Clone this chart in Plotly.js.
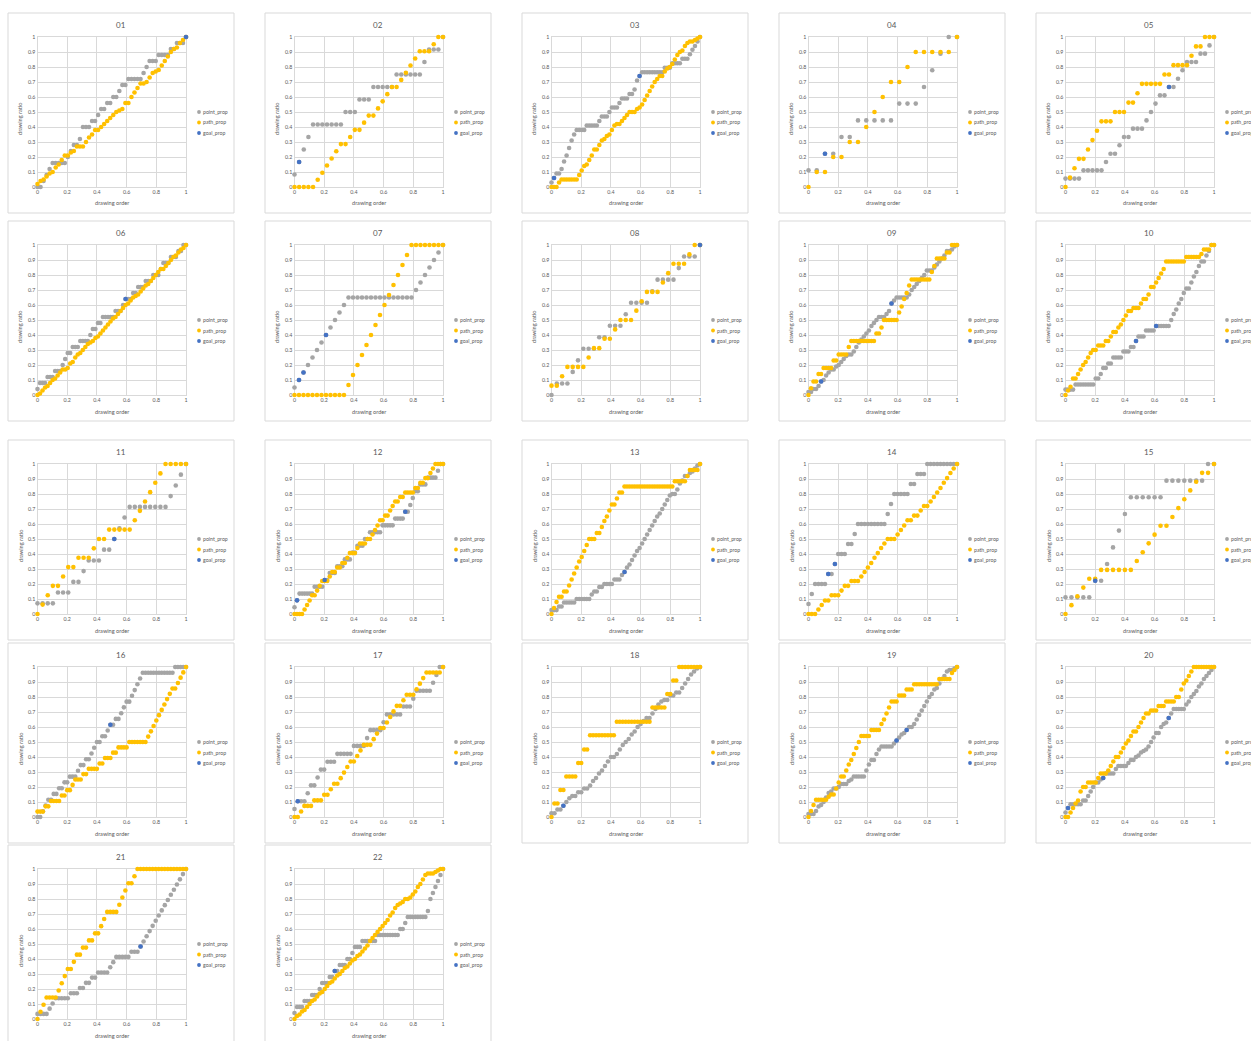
<!DOCTYPE html>
<html>
<head>
<meta charset="utf-8">
<script src="https://cdn.plot.ly/plotly-3.0.1.min.js"></script>
<style>
html,body{margin:0;padding:0;background:#ffffff;}
#chart{width:1251px;height:1041px;}
</style>
</head>
<body>
<div id="chart"></div>
<script>
// ---------- labels ----------
const panelTitles = ['01','02','03','04','05','06','07','08','09','10','11','12','13','14','15','16','17','18','19','20','21','22'];
const seriesNames = ['point_prop','path_prop','goal_prop'];
const seriesColors = ['#A5A5A5','#FFC000','#4472C4'];
const xAxisTitle = 'drawing order';
const yAxisTitle = 'drawing ratio';

// ---------- data (y values in drawing order; x = normalised drawing order) ----------
const p01_point = [0,0,.04,.08,.12,.16,.16,.16,.16,.16,.2,.24,.28,.28,.32,.4,.4,.4,.44,.44,.48,.52,.52,.56,.56,.6,.6,.64,.68,.68,.72,.72,.72,.72,.72,.76,.8,.84,.84,.84,.88,.88,.88,.88,.92,.92,.96,.96,.96,1];
const p01_path = [.02,.04,.05,.07,.09,.1,.13,.15,.18,.21,.21,.23,.24,.27,.27,.27,.3,.33,.35,.38,.38,.4,.42,.44,.46,.48,.5,.51,.52,.56,.56,.6,.63,.66,.69,.69,.7,.73,.76,.77,.78,.81,.84,.87,.9,.92,.93,.96,.98,1];
const p01_goal_x = [1];
const p01_goal_y = [1];

const p02_point = [.083,.167,.25,.333,.417,.417,.417,.417,.417,.417,.417,.5,.5,.5,.583,.583,.583,.667,.667,.667,.667,.667,.75,.75,.75,.75,.75,.75,.833,.917,.917,.917,1];
const p02_path = [0,0,0,0,0,.048,.095,.143,.19,.238,.286,.286,.333,.381,.381,.429,.476,.476,.524,.571,.619,.667,.667,.714,.762,.81,.857,.905,.905,.905,.952,1,1];
const p02_goal_x = [0.031];
const p02_goal_y = [0.167];

const p03_point = [.03,.06,.09,.09,.12,.17,.21,.26,.31,.35,.38,.38,.38,.38,.41,.41,.41,.41,.41,.44,.47,.47,.47,.5,.53,.53,.53,.56,.59,.59,.59,.62,.62,.65,.71,.74,.765,.765,.765,.765,.765,.765,.765,.765,.765,.795,.795,.795,.825,.825,.825,.825,.855,.855,.855,.885,.915,.94,.97,1];
const p03_path = [0,0,0,.03,.05,.05,.05,.05,.05,.05,.05,.08,.11,.14,.15,.18,.21,.25,.25,.28,.31,.32,.34,.35,.38,.41,.42,.42,.44,.46,.48,.5,.5,.5,.52,.53,.55,.58,.61,.64,.67,.7,.72,.74,.74,.77,.79,.8,.82,.85,.88,.9,.91,.94,.96,.97,.97,.98,.99,1];
const p03_goal_x = [0.017,0.593];
const p03_goal_y = [0.06,0.74];

const p04_point = [.111,.111,.222,.222,.333,.333,.444,.444,.444,.444,.444,.556,.556,.556,.667,.778,.889,1,1];
const p04_path = [0,.1,.1,.2,.2,.3,.3,.4,.5,.6,.7,.7,.8,.9,.9,.9,.9,.9,1];
const p04_goal_x = [0.111];
const p04_goal_y = [0.222];

const p05_point = [.056,.056,.056,.056,.111,.111,.111,.111,.111,.167,.222,.222,.278,.333,.333,.389,.389,.389,.444,.5,.556,.611,.611,.667,.667,.722,.778,.833,.833,.833,.889,.889,.944,1];
const p05_path = [0,.0625,.125,.1875,.1875,.25,.3125,.375,.4375,.4375,.4375,.5,.5,.5,.5625,.5625,.625,.6875,.6875,.6875,.6875,.6875,.75,.75,.8125,.8125,.8125,.8125,.875,.9375,.9375,1,1,1];
const p05_goal_x = [0.697];
const p05_goal_y = [0.667];

const p06_point = [.04,.08,.08,.08,.12,.12,.12,.16,.16,.16,.2,.24,.28,.28,.32,.32,.32,.36,.36,.36,.36,.4,.44,.44,.48,.48,.52,.52,.52,.52,.52,.56,.56,.56,.6,.64,.64,.64,.68,.68,.72,.72,.72,.76,.76,.76,.8,.8,.8,.84,.88,.88,.88,.92,.92,.92,.96,.96,1,1];
const p06_path = [0,.01,.03,.05,.06,.08,.1,.11,.13,.15,.17,.17,.18,.21,.22,.25,.27,.28,.3,.32,.34,.35,.36,.38,.39,.41,.43,.45,.47,.49,.51,.52,.54,.56,.58,.6,.61,.63,.65,.66,.67,.69,.71,.73,.74,.76,.78,.8,.82,.84,.84,.86,.88,.9,.92,.93,.95,.97,.98,1];
const p06_goal_x = [0.593];
const p06_goal_y = [0.64];

const p07_point = [.05,.1,.15,.2,.25,.3,.35,.4,.45,.5,.55,.6,.65,.65,.65,.65,.65,.65,.65,.65,.65,.65,.65,.65,.65,.65,.65,.7,.75,.8,.85,.9,.95,1];
const p07_path = [0,0,0,0,0,0,0,0,0,0,0,0,.067,.133,.2,.267,.333,.4,.467,.533,.6,.667,.733,.8,.867,.933,1,1,1,1,1,1,1,1];
const p07_goal_x = [0.0303,0.0606,0.2121];
const p07_goal_y = [0.1,0.15,0.4];

const p08_point = [0,.077,.077,.077,.154,.231,.308,.308,.308,.385,.385,.462,.462,.462,.538,.615,.615,.615,.615,.692,.769,.769,.769,.769,.846,.923,.923,.923,1];
const p08_path = [.0625,.0625,.125,.1875,.1875,.1875,.1875,.25,.3125,.3125,.375,.375,.4375,.5,.5,.5,.5625,.625,.6875,.6875,.6875,.75,.8125,.875,.875,.875,.9375,1,1];
const p08_goal_x = [1];
const p08_goal_y = [1];

const p09_point = [.02,.02,.04,.04,.06,.09,.1,.13,.15,.17,.17,.19,.2,.22,.24,.26,.27,.27,.29,.32,.35,.37,.39,.41,.43,.46,.48,.5,.52,.52,.52,.54,.56,.61,.63,.65,.65,.65,.65,.65,.67,.7,.72,.74,.76,.78,.8,.83,.83,.83,.85,.87,.89,.91,.93,.96,.96,.97,.99,1];
const p09_path = [0,.045,.09,.09,.14,.14,.18,.18,.18,.18,.23,.23,.27,.27,.27,.27,.32,.36,.36,.36,.36,.36,.36,.36,.36,.36,.36,.41,.41,.45,.5,.5,.5,.5,.5,.5,.55,.59,.64,.68,.73,.77,.77,.77,.77,.77,.77,.77,.77,.82,.86,.91,.91,.91,.91,.95,.95,1,1,1];
const p09_goal_x = [0.085,0.559];
const p09_goal_y = [0.09,0.61];

const p10_point = [.036,.036,.036,.036,.07,.07,.07,.07,.07,.07,.07,.07,.11,.11,.14,.18,.18,.21,.21,.25,.25,.25,.25,.29,.29,.29,.32,.32,.36,.39,.39,.39,.43,.43,.43,.43,.46,.46,.46,.46,.46,.46,.5,.54,.57,.61,.64,.68,.71,.71,.75,.79,.82,.86,.89,.89,.93,.96,1,1];
const p10_path = [0,.03,.055,.11,.11,.14,.17,.2,.22,.25,.28,.3,.3,.33,.33,.33,.36,.36,.39,.42,.42,.45,.47,.5,.53,.56,.56,.58,.58,.58,.61,.64,.64,.67,.72,.72,.75,.78,.81,.84,.89,.89,.89,.89,.89,.89,.89,.89,.92,.92,.92,.92,.92,.92,.94,.97,.97,.97,1,1];
const p10_goal_x = [0.475,0.610];
const p10_goal_y = [0.36,0.46];

const p11_point = [.071,.071,.071,.071,.143,.143,.143,.214,.214,.286,.357,.357,.357,.429,.429,.5,.571,.643,.714,.714,.714,.714,.714,.714,.714,.714,.786,.857,.929,1];
const p11_path = [0,.0625,.125,.1875,.1875,.25,.3125,.3125,.375,.375,.375,.4375,.5,.5,.5625,.5625,.5625,.5625,.5625,.625,.6875,.75,.8125,.875,.9375,1,1,1,1,1];
const p11_goal_x = [0.517];
const p11_goal_y = [0.5];

const p12_point = [.045,.091,.136,.136,.136,.136,.136,.136,.182,.182,.182,.182,.227,.227,.273,.273,.273,.318,.318,.318,.364,.364,.364,.409,.409,.455,.455,.455,.5,.5,.545,.545,.545,.545,.545,.591,.591,.591,.591,.591,.636,.636,.636,.636,.682,.682,.727,.773,.818,.818,.864,.864,.864,.909,.909,.909,.909,.955,1,1];
const p12_path = [0,0,0,0,.03,.06,.09,.125,.125,.156,.1875,.22,.22,.22,.25,.28,.28,.31,.31,.34,.34,.375,.406,.406,.406,.44,.47,.47,.47,.5,.5,.53,.56,.59,.625,.625,.656,.656,.69,.72,.75,.75,.78,.78,.81,.81,.81,.81,.84,.84,.875,.875,.906,.906,.94,.97,1,1,1,1];
const p12_goal_x = [0.017,0.203,0.746];
const p12_goal_y = [0.091,0.227,0.682];

const p13_point = [.026,.026,.026,.05,.05,.077,.077,.077,.077,.077,.1,.1,.1,.1,.1,.1,.13,.15,.15,.18,.18,.2,.2,.2,.2,.23,.23,.23,.26,.28,.31,.33,.36,.39,.42,.44,.47,.5,.53,.56,.59,.62,.65,.67,.7,.73,.76,.79,.8,.8,.83,.87,.89,.92,.92,.94,.95,.97,.99,1];
const p13_path = [0,.04,.08,.115,.115,.15,.15,.19,.23,.27,.31,.35,.38,.42,.46,.5,.5,.5,.54,.54,.58,.62,.65,.69,.73,.73,.77,.81,.81,.85,.85,.85,.85,.85,.85,.85,.85,.85,.85,.85,.85,.85,.85,.85,.85,.85,.85,.85,.85,.885,.885,.885,.885,.885,.92,.96,.96,.96,.96,1];
const p13_goal_x = [0.492];
const p13_goal_y = [0.28];

const p14_point = [.067,.133,.2,.2,.2,.2,.267,.267,.333,.4,.4,.4,.467,.467,.533,.6,.6,.6,.6,.6,.6,.6,.6,.6,.667,.733,.8,.8,.8,.8,.8,.867,.867,.933,.933,.933,1,1,1,1,1,1,1,1,1,1];
const p14_path = [0,0,0,.03,.06,.09,.09,.125,.125,.125,.156,.1875,.1875,.22,.22,.22,.25,.28,.31,.34,.375,.406,.44,.47,.5,.5,.5,.53,.56,.59,.625,.625,.656,.656,.69,.72,.72,.75,.78,.81,.84,.875,.906,.94,.97,1];
const p14_goal_x = [0.133,0.178];
const p14_goal_y = [0.267,0.333];

const p15_point = [.111,.111,.111,.111,.111,.222,.222,.333,.444,.556,.667,.778,.778,.778,.778,.778,.778,.889,.889,.889,.889,.889,.889,.889,1,1];
const p15_path = [0,.059,.118,.176,.235,.235,.294,.294,.294,.294,.294,.294,.353,.412,.471,.529,.588,.588,.647,.706,.765,.824,.882,.941,.941,1];
const p15_goal_x = [0.2];
const p15_goal_y = [0.222];

const p16_point = [0,0,.038,.077,.115,.115,.154,.154,.192,.192,.231,.231,.269,.269,.269,.308,.346,.346,.385,.385,.423,.462,.5,.5,.538,.538,.577,.615,.615,.654,.654,.692,.731,.769,.769,.808,.846,.885,.923,.962,.962,.962,.962,.962,.962,.962,.962,.962,.962,.962,.962,1,1,1,1,1];
const p16_path = [.036,.036,.036,.071,.071,.107,.107,.107,.107,.143,.143,.179,.179,.214,.25,.25,.25,.286,.286,.321,.321,.321,.321,.357,.357,.393,.393,.393,.429,.429,.464,.464,.464,.464,.5,.5,.5,.5,.5,.5,.5,.536,.571,.607,.643,.679,.714,.75,.786,.821,.857,.857,.893,.929,.964,1];
const p16_goal_x = [0.491];
const p16_goal_y = [0.615];

const p17_point = [.053,.105,.105,.105,.158,.211,.211,.263,.316,.316,.368,.368,.368,.421,.421,.421,.421,.421,.474,.474,.474,.474,.526,.579,.579,.579,.579,.632,.684,.684,.684,.684,.684,.737,.737,.737,.789,.842,.842,.842,.842,.842,.895,.947,1,1];
const p17_path = [0,0,.037,.074,.074,.074,.111,.111,.111,.148,.148,.185,.222,.222,.259,.296,.333,.37,.37,.407,.444,.481,.481,.481,.519,.556,.593,.593,.63,.667,.704,.741,.741,.778,.815,.815,.815,.852,.889,.926,.963,.963,.963,.963,.963,1];
const p17_goal_x = [0.022];
const p17_goal_y = [0.105];

const p18_point = [.025,.025,.05,.05,.075,.1,.125,.14,.14,.165,.165,.19,.19,.21,.24,.26,.29,.31,.34,.37,.4,.4,.42,.45,.48,.5,.52,.55,.57,.6,.62,.64,.66,.66,.69,.72,.75,.77,.78,.78,.81,.81,.83,.83,.86,.89,.92,.95,.97,.99,1];
const p18_path = [0,.09,.09,.18,.18,.27,.27,.27,.27,.36,.36,.45,.45,.545,.545,.545,.545,.545,.545,.545,.545,.545,.635,.635,.635,.635,.635,.635,.635,.635,.635,.635,.635,.635,.73,.73,.73,.73,.73,.82,.82,.91,.91,1,1,1,1,1,1,1,1];
const p18_goal_x = [0.08];
const p18_goal_y = [0.075];

const p19_point = [.02,.02,.02,.04,.07,.08,.1,.13,.16,.17,.19,.19,.2,.22,.22,.22,.24,.25,.27,.27,.27,.27,.27,.31,.35,.38,.38,.42,.45,.47,.47,.47,.47,.47,.49,.51,.53,.55,.56,.58,.6,.6,.62,.65,.68,.71,.74,.77,.8,.82,.85,.86,.89,.92,.94,.97,.98,.98,.99,1];
const p19_path = [0,.04,.08,.115,.115,.115,.115,.115,.135,.15,.15,.19,.23,.27,.27,.31,.35,.38,.42,.46,.5,.54,.54,.54,.54,.58,.58,.58,.58,.62,.65,.69,.73,.77,.77,.77,.81,.81,.81,.85,.85,.85,.885,.885,.885,.885,.885,.885,.885,.885,.885,.885,.92,.92,.92,.92,.92,.96,.98,1];
const p19_goal_x = [0.593,0.661];
const p19_goal_y = [0.51,0.58];

const p20_point = [.03,.06,.085,.085,.085,.085,.085,.11,.11,.14,.17,.2,.23,.23,.25,.26,.29,.29,.29,.29,.32,.34,.34,.34,.34,.36,.38,.38,.4,.41,.43,.44,.45,.47,.5,.53,.56,.56,.6,.62,.63,.66,.69,.72,.72,.72,.72,.72,.75,.77,.8,.82,.84,.87,.89,.92,.94,.96,.98,1];
const p20_path = [0,0,.03,.06,.09,.11,.17,.2,.2,.23,.23,.23,.23,.26,.29,.29,.29,.31,.34,.37,.4,.4,.43,.46,.49,.51,.54,.57,.57,.6,.63,.66,.69,.69,.71,.71,.71,.74,.74,.74,.77,.77,.77,.77,.8,.8,.85,.89,.91,.94,.97,1,1,1,1,1,1,1,1,1];
const p20_goal_x = [0.017,0.254,0.695];
const p20_goal_y = [0.06,0.26,0.66];

const p21_point = [.034,.034,.034,.034,.069,.103,.138,.138,.138,.138,.138,.172,.172,.172,.207,.207,.241,.241,.276,.276,.31,.31,.31,.31,.345,.379,.414,.414,.414,.414,.414,.448,.448,.448,.483,.517,.552,.586,.621,.655,.69,.724,.759,.793,.828,.862,.897,.931,.966,1];
const p21_path = [0,.048,.095,.143,.143,.143,.143,.19,.238,.286,.333,.333,.381,.429,.429,.476,.476,.524,.524,.571,.571,.619,.667,.714,.714,.714,.714,.762,.81,.857,.905,.905,.952,1,1,1,1,1,1,1,1,1,1,1,1,1,1,1,1,1];
const p21_goal_x = [0.694];
const p21_goal_y = [0.483];

const p22_point = [.04,.08,.08,.08,.12,.12,.12,.16,.16,.16,.2,.24,.24,.24,.28,.28,.32,.32,.36,.36,.36,.4,.4,.44,.48,.48,.48,.52,.52,.52,.52,.52,.52,.56,.56,.56,.56,.56,.56,.56,.56,.56,.6,.6,.64,.68,.68,.68,.68,.68,.68,.68,.68,.72,.8,.84,.88,.92,.96,1];
const p22_path = [0,.02,.03,.05,.06,.08,.1,.12,.13,.15,.17,.18,.2,.22,.24,.25,.27,.29,.3,.32,.34,.35,.37,.39,.4,.42,.43,.45,.47,.49,.52,.54,.56,.58,.6,.62,.64,.66,.69,.71,.74,.76,.77,.78,.8,.8,.81,.83,.85,.88,.9,.93,.96,.97,.97,.97,.98,.99,1,1];
const p22_goal_x = [0.271];
const p22_goal_y = [0.32];

const panels = [
  [p01_point,p01_path,p01_goal_x,p01_goal_y],[p02_point,p02_path,p02_goal_x,p02_goal_y],
  [p03_point,p03_path,p03_goal_x,p03_goal_y],[p04_point,p04_path,p04_goal_x,p04_goal_y],
  [p05_point,p05_path,p05_goal_x,p05_goal_y],[p06_point,p06_path,p06_goal_x,p06_goal_y],
  [p07_point,p07_path,p07_goal_x,p07_goal_y],[p08_point,p08_path,p08_goal_x,p08_goal_y],
  [p09_point,p09_path,p09_goal_x,p09_goal_y],[p10_point,p10_path,p10_goal_x,p10_goal_y],
  [p11_point,p11_path,p11_goal_x,p11_goal_y],[p12_point,p12_path,p12_goal_x,p12_goal_y],
  [p13_point,p13_path,p13_goal_x,p13_goal_y],[p14_point,p14_path,p14_goal_x,p14_goal_y],
  [p15_point,p15_path,p15_goal_x,p15_goal_y],[p16_point,p16_path,p16_goal_x,p16_goal_y],
  [p17_point,p17_path,p17_goal_x,p17_goal_y],[p18_point,p18_path,p18_goal_x,p18_goal_y],
  [p19_point,p19_path,p19_goal_x,p19_goal_y],[p20_point,p20_path,p20_goal_x,p20_goal_y],
  [p21_point,p21_path,p21_goal_x,p21_goal_y],[p22_point,p22_path,p22_goal_x,p22_goal_y]
];

// ---------- layout geometry ----------
const W = 1251, H = 1041;
const colLeft = [8, 265, 522, 779, 1036];
const rowTop = [13, 221, 440, 643, 845];
const boxW = 226, boxH = 200;
const FONT = 'Lato, "Liberation Sans", sans-serif';
const TXT = '#595959';
const GRID = '#D9D9D9';
const MS = 4.6;

const px = v => v / W;
const py = v => 1 - v / H;
const order = arr => arr.map((_, i) => i / (arr.length - 1));

const traces = [];
const shapes = [];
const annotations = [];
const layout = {
  width: W, height: H,
  margin: {l: 0, r: 0, t: 0, b: 0, pad: 0},
  paper_bgcolor: '#ffffff', plot_bgcolor: '#ffffff',
  showlegend: false, hovermode: false,
  font: {family: FONT, color: TXT}
};

panels.forEach((p, k) => {
  const col = k % 5, row = Math.floor(k / 5);
  const bx = colLeft[col], by = rowTop[row];
  const sfx = k === 0 ? '' : String(k + 1);
  const xa = 'x' + sfx, ya = 'y' + sfx;
  const [pt, pa, gx, gy] = p;

  traces.push({type: 'scatter', mode: 'markers', name: seriesNames[0], x: order(pt), y: pt,
    xaxis: xa, yaxis: ya, cliponaxis: false, marker: {color: seriesColors[0], size: MS, line: {width: 0}}});
  traces.push({type: 'scatter', mode: 'markers', name: seriesNames[1], x: order(pa), y: pa,
    xaxis: xa, yaxis: ya, cliponaxis: false, marker: {color: seriesColors[1], size: MS, line: {width: 0}}});
  traces.push({type: 'scatter', mode: 'markers', name: seriesNames[2], x: gx, y: gy,
    xaxis: xa, yaxis: ya, cliponaxis: false, marker: {color: seriesColors[2], size: MS, line: {width: 0}}});

  const axBase = {
    range: [0, 1], autorange: false, fixedrange: true, layer: 'below traces',
    showgrid: true, gridcolor: GRID, gridwidth: 1,
    zeroline: false, showline: true, linecolor: GRID, linewidth: 1, mirror: true,
    ticks: '', tickfont: {family: FONT, size: 5.3, color: TXT}
  };
  layout['xaxis' + sfx] = Object.assign({}, axBase, {
    domain: [px(bx + 29.5), px(bx + 178)], anchor: ya, tick0: 0, dtick: 0.2
  });
  layout['yaxis' + sfx] = Object.assign({}, axBase, {
    domain: [py(by + 174), py(by + 24)], anchor: xa, tick0: 0, dtick: 0.1
  });

  // chart-area border
  shapes.push({type: 'rect', xref: 'paper', yref: 'paper', layer: 'below',
    x0: px(bx), x1: px(bx + boxW), y0: py(by + boxH), y1: py(by),
    line: {color: GRID, width: 1}, fillcolor: 'rgba(0,0,0,0)'});

  // title
  annotations.push({xref: 'paper', yref: 'paper', x: px(bx + 113), y: py(by + 12),
    xanchor: 'center', yanchor: 'middle', showarrow: false, text: panelTitles[k],
    font: {family: FONT, size: 8, color: TXT}});
  // axis titles
  annotations.push({xref: 'paper', yref: 'paper', x: px(bx + 103.7), y: py(by + 190),
    xanchor: 'center', yanchor: 'middle', showarrow: false, text: xAxisTitle,
    font: {family: FONT, size: 5.6, color: TXT}});
  annotations.push({xref: 'paper', yref: 'paper', x: px(bx + 12), y: py(by + 106),
    xanchor: 'center', yanchor: 'middle', showarrow: false, text: yAxisTitle, textangle: -90,
    font: {family: FONT, size: 5.6, color: TXT}});

  // legend
  const legY = [99, 109.5, 120];
  seriesNames.forEach((nm, j) => {
    const cx = bx + 191, cy = by + legY[j], r = 1.9;
    shapes.push({type: 'circle', xref: 'paper', yref: 'paper',
      x0: px(cx - r), x1: px(cx + r), y0: py(cy + r), y1: py(cy - r),
      fillcolor: seriesColors[j], line: {width: 0}});
    annotations.push({xref: 'paper', yref: 'paper', x: px(bx + 193), y: py(by + legY[j]),
      xanchor: 'left', yanchor: 'middle', showarrow: false, text: nm,
      font: {family: FONT, size: 5.2, color: TXT}});
  });
});

layout.shapes = shapes;
layout.annotations = annotations;

Plotly.newPlot('chart', traces, layout, {staticPlot: true, displayModeBar: false, responsive: false});
</script>
</body>
</html>
